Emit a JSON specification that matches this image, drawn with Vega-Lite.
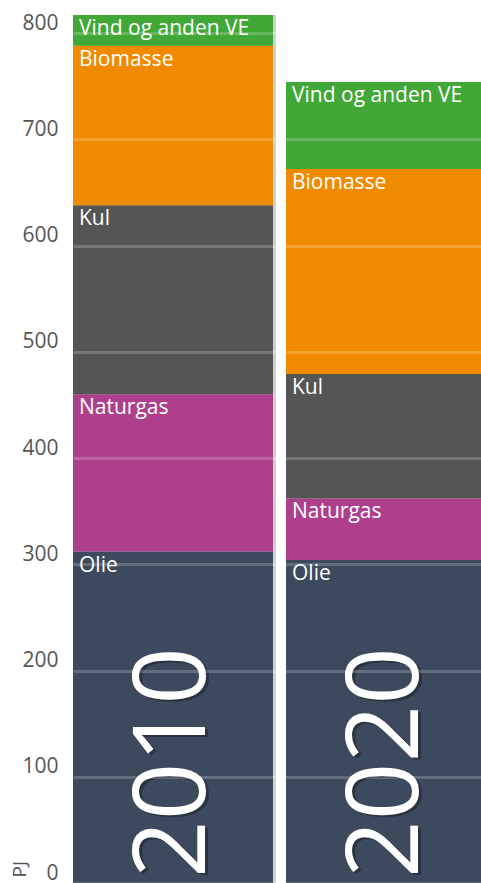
{
  "$schema": "https://vega.github.io/schema/vega-lite/v6.json",
  "autosize": {"type": "none"},
  "padding": {"left": 73, "top": 33, "right": 0, "bottom": 0},
  "width": 413,
  "height": 850,
  "background": "white",
  "config": {"view": {"stroke": null}, "font": "Open Sans"},
  "datasets": {
    "energy": [
      {"year": "2010", "source": "Olie", "order": 1, "PJ": 312},
      {"year": "2010", "source": "Naturgas", "order": 2, "PJ": 148},
      {"year": "2010", "source": "Kul", "order": 3, "PJ": 178},
      {"year": "2010", "source": "Biomasse", "order": 4, "PJ": 150},
      {"year": "2010", "source": "Vind og anden VE", "order": 5, "PJ": 29},
      {"year": "2020", "source": "Olie", "order": 1, "PJ": 304},
      {"year": "2020", "source": "Naturgas", "order": 2, "PJ": 58},
      {"year": "2020", "source": "Kul", "order": 3, "PJ": 117},
      {"year": "2020", "source": "Biomasse", "order": 4, "PJ": 193},
      {"year": "2020", "source": "Vind og anden VE", "order": 5, "PJ": 82}
    ],
    "years": [{"year": "2010"}, {"year": "2020"}]
  },
  "layer": [
    {
      "data": {"name": "energy"},
      "transform": [{"stack": "PJ", "groupby": ["year"], "sort": [{"field": "order", "order": "ascending"}], "as": ["y0", "y1"]}],
      "mark": {"type": "bar", "xOffset": 3, "fill": "black", "opacity": 0.18},
      "encoding": {
        "x": {"field": "year", "type": "nominal", "axis": null, "scale": {"paddingInner": 0.061, "paddingOuter": 0}},
        "y": {"field": "y1", "type": "quantitative", "scale": {"domain": [0, 800], "nice": false},
          "axis": {"title": "PJ", "values": [0, 100, 200, 300, 400, 500, 600, 700, 800], "domain": false, "ticks": false,
            "labelPadding": 15, "labelFontSize": 21, "labelColor": "#555555", "labelBaseline": "alphabetic", "labelOffset": -4,
            "labelFont": "Open Sans",
            "grid": true, "gridColor": "white", "gridOpacity": 0.2, "gridWidth": 3, "zindex": 1,
            "titleAngle": 270, "titleAlign": "left", "titleBaseline": "alphabetic", "titleX": -48, "titleY": 844,
            "titleFontSize": 19, "titleFontWeight": "normal", "titleColor": "#555555", "titleFont": "Open Sans"}},
        "y2": {"field": "y0"}
      }
    },
    {
      "data": {"name": "energy"},
      "transform": [{"stack": "PJ", "groupby": ["year"], "sort": [{"field": "order", "order": "ascending"}], "as": ["y0", "y1"]}],
      "mark": {"type": "bar"},
      "encoding": {
        "x": {"field": "year", "type": "nominal"},
        "y": {"field": "y1", "type": "quantitative"},
        "y2": {"field": "y0"},
        "color": {"field": "source", "type": "nominal", "legend": null,
          "scale": {"domain": ["Olie", "Naturgas", "Kul", "Biomasse", "Vind og anden VE"],
            "range": ["#3d4a5d", "#ad3f8c", "#555555", "#f08a00", "#41a737"]}}
      }
    },
    {
      "data": {"name": "energy"},
      "transform": [{"stack": "PJ", "groupby": ["year"], "sort": [{"field": "order", "order": "ascending"}], "as": ["y0", "y1"]}],
      "mark": {"type": "text", "align": "left", "baseline": "top", "dx": 6, "dy": 3, "fontSize": 21, "color": "white", "font": "Open Sans"},
      "encoding": {
        "x": {"field": "year", "type": "nominal", "bandPosition": 0},
        "y": {"field": "y1", "type": "quantitative"},
        "text": {"field": "source"}
      }
    },
    {
      "data": {"name": "years"},
      "mark": {"type": "text", "angle": 270, "align": "left", "baseline": "alphabetic", "fontSize": 101, "dx": 3, "dy": 35, "color": "black", "opacity": 0.3, "font": "Open Sans"},
      "encoding": {
        "x": {"field": "year", "type": "nominal"},
        "y": {"datum": 0},
        "text": {"field": "year"}
      }
    },
    {
      "data": {"name": "years"},
      "mark": {"type": "text", "angle": 270, "align": "left", "baseline": "alphabetic", "fontSize": 101, "dx": 5, "dy": 32, "color": "white", "font": "Open Sans"},
      "encoding": {
        "x": {"field": "year", "type": "nominal"},
        "y": {"datum": 0},
        "text": {"field": "year"}
      }
    }
  ]
}
